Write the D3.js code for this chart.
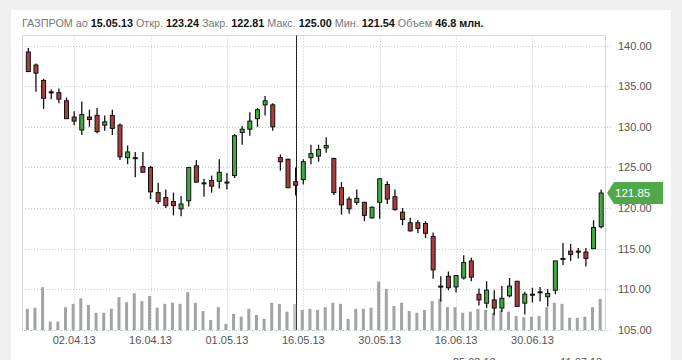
<!DOCTYPE html>
<html><head><meta charset="utf-8">
<script src="https://cdnjs.cloudflare.com/ajax/libs/d3/7.8.5/d3.min.js"></script>
<style>
html,body{margin:0;padding:0;background:#efefef;}
svg{display:block;font-family:"Liberation Sans",Arial,sans-serif;}
</style></head>
<body>
<svg id="c" width="682" height="360"></svg>
<script>
const dates = ["25.03.13","26.03.13","27.03.13","28.03.13","29.03.13",
"01.04.13","02.04.13","03.04.13","04.04.13","05.04.13","08.04.13","09.04.13","10.04.13","11.04.13","12.04.13",
"15.04.13","16.04.13","17.04.13","18.04.13","19.04.13","22.04.13","23.04.13","24.04.13","25.04.13","26.04.13","29.04.13","30.04.13",
"02.05.13","03.05.13","06.05.13","07.05.13","08.05.13","10.05.13","13.05.13","14.05.13","15.05.13","16.05.13","17.05.13",
"20.05.13","21.05.13","22.05.13","23.05.13","24.05.13","27.05.13","28.05.13","29.05.13","30.05.13","31.05.13",
"03.06.13","04.06.13","05.06.13","06.06.13","07.06.13","10.06.13","11.06.13","13.06.13","14.06.13",
"17.06.13","18.06.13","19.06.13","20.06.13","21.06.13","24.06.13","25.06.13","26.06.13","27.06.13","28.06.13",
"01.07.13","02.07.13","03.07.13","04.07.13","05.07.13","08.07.13","09.07.13","10.07.13","11.07.13"];

const open  = [139.2,137.6,135.7,134.3,134.2,133.2,131.2,129.6,131.2,131.4,130.2,131.4,130.2,126.2,126.2,125.1,125.0,121.9,121.3,120.8,
119.9,120.9,125.2,123.1,123.4,123.3,123.2,124.0,129.3,129.7,131.0,132.7,132.7,126.2,126.0,123.24,123.5,126.2,126.4,127.4,
126.1,122.5,121.1,120.7,120.7,118.8,120.7,122.9,121.4,119.5,118.2,118.2,118.1,116.5,110.4,111.6,110.3,111.4,113.5,109.4,
108.3,108.7,107.7,109.2,111.0,108.3,109.3,109.6,109.1,109.9,113.8,114.7,114.7,114.6,115.0,117.7];
const high  = [139.7,137.8,135.9,134.6,134.7,133.6,131.9,133.1,132.1,132.3,131.4,132.1,130.4,127.7,126.9,126.9,125.2,123.1,122.3,121.9,
121.5,125.0,125.9,123.6,124.0,126.0,124.3,129.1,130.1,131.8,132.3,133.8,132.9,126.6,126.1,125.00,126.0,127.8,127.8,128.7,
126.2,123.2,121.4,122.3,120.8,120.2,123.7,123.3,122.3,120.0,118.8,118.5,118.4,117.0,111.6,112.2,111.7,114.2,113.9,110.1,
111.0,109.9,110.4,111.4,111.0,109.7,110.2,110.3,110.0,113.5,115.7,115.6,115.1,115.1,118.5,122.3];
const low   = [136.7,134.3,132.2,133.4,132.9,131.0,130.2,129.0,130.0,129.2,129.5,129.0,125.9,125.4,123.8,124.4,121.1,120.5,120.0,119.1,
119.0,120.2,123.1,121.4,121.9,122.4,122.3,123.7,127.8,128.9,130.0,131.4,129.5,124.6,122.5,121.54,122.9,125.4,125.7,126.8,
121.6,119.2,119.3,120.4,118.4,118.7,118.7,120.5,119.7,117.9,117.1,116.9,116.3,111.3,108.5,109.9,109.6,111.2,111.0,108.0,
107.7,106.8,107.2,109.0,107.9,106.9,108.4,108.5,107.9,109.4,113.0,113.5,113.8,112.8,115.0,117.5];
const close = [136.8,136.6,133.5,134.2,133.4,131.0,130.7,131.5,130.9,129.4,130.6,129.8,126.3,126.9,126.1,124.4,122.0,120.8,120.3,120.3,
120.5,125.0,123.2,123.0,122.7,124.4,123.1,128.9,129.7,130.7,132.1,133.2,130.0,125.7,122.5,122.81,125.7,126.7,127.2,127.7,
121.9,120.4,119.9,121.2,119.1,120.1,123.6,121.1,119.8,118.6,117.2,117.5,116.9,112.4,110.3,110.2,111.7,113.3,111.5,108.7,
109.9,107.7,108.9,110.4,107.9,109.4,109.4,109.7,109.5,113.5,113.8,114.3,114.7,113.8,117.6,121.85];
const volume = [38,40,77,15,15,41,47,57,45,31,31,38,59,50,66,52,61,40,47,49,
47,68,49,34,18,41,11,29,24,38,27,20,49,47,33,46.8,36,38,36,41,
49,47,20,38,38,40,87,74,43,49,34,31,36,52,56,41,41,31,33,38,
36,31,36,33,25,23,24,25,41,49,47,22,22,24,41,56];

const priceTicks = [105,110,115,120,125,130,135,140];
const tickDates  = ["02.04.13","16.04.13","30.04.13","16.05.13","30.05.13","14.06.13","28.06.13"];
const tickLabels = ["02.04.13","16.04.13","01.05.13","16.05.13","30.05.13","16.06.13","30.06.13"];
const navLabels  = ["25.03.13","11.07.13"];
const selIndex = 35;

const svg = d3.select("#c");
const L = 22, R = 605, T = 35.5, B = 330;

// panel
svg.append("rect").attr("x",11).attr("y",10).attr("width",660).attr("height",350).attr("fill","#fff");

const x = d3.scaleBand().domain(dates).range([24.5, R]).padding(0);
const cx = d => x(d) + x.bandwidth()/2;
const y = d3.scaleLinear().domain([105,140]).range([B, 45.5]);
const yv = d3.scaleLinear().domain([0,100]).range([B, B-55.6]);

// grid
const g = svg.append("g");
g.selectAll("line.h").data(priceTicks).join("line")
  .attr("x1",L).attr("x2",R+7).attr("y1",d=>Math.round(y(d))+0.5).attr("y2",d=>Math.round(y(d))+0.5)
  .attr("stroke","#c8c8c8").attr("stroke-dasharray","1,2");
g.selectAll("line.v").data(tickDates).join("line")
  .attr("x1",d=>Math.round(cx(d))+0.5).attr("x2",d=>Math.round(cx(d))+0.5).attr("y1",T).attr("y2",B)
  .attr("stroke","#c8c8c8").attr("stroke-dasharray","1,2");

// frame
svg.append("line").attr("x1",L+0.5).attr("x2",L+0.5).attr("y1",T).attr("y2",B).attr("stroke","#d6d6d6");
svg.append("line").attr("x1",R+0.5).attr("x2",R+0.5).attr("y1",T).attr("y2",B).attr("stroke","#d6d6d6");
svg.append("line").attr("x1",L).attr("x2",R).attr("y1",T).attr("y2",T).attr("stroke","#d6d6d6");
svg.append("line").attr("x1",L).attr("x2",R).attr("y1",B+0.5).attr("y2",B+0.5).attr("stroke","#c6d6c6").attr("stroke-dasharray","1,1");

// crosshair
svg.append("line").attr("x1",Math.round(cx(dates[selIndex]))+0.5).attr("x2",Math.round(cx(dates[selIndex]))+0.5)
  .attr("y1",T).attr("y2",B).attr("stroke","#222").attr("stroke-width",1);

// volume
svg.append("g").selectAll("rect").data(volume).join("rect")
  .attr("x",(d,i)=>cx(dates[i])-2.5).attr("width",3)
  .attr("y",d=>yv(d)).attr("height",d=>B-yv(d))
  .attr("fill",(d,i)=>i===selIndex?"#c4c4c4":"#a3a3a3");

// candles
const cg = svg.append("g");
dates.forEach((d,i)=>{
  const c = cx(d);
  cg.append("line").attr("x1",c).attr("x2",c).attr("y1",y(high[i])).attr("y2",y(low[i]))
    .attr("stroke","#111").attr("stroke-width",1.3);
  const top = y(Math.max(open[i],close[i])), bot = y(Math.min(open[i],close[i]));
  cg.append("rect").attr("x",c-2).attr("width",4).attr("y",top).attr("height",Math.max(1,bot-top))
    .attr("fill", close[i]>=open[i] ? "#41ab41" : "#aa3d3d")
    .attr("stroke","#111").attr("stroke-width",1);
});

// y axis labels
const ya = svg.append("g").attr("transform",`translate(${R+10},0)`)
  .call(d3.axisRight(y).tickValues(priceTicks).tickFormat(d3.format(".2f")).tickSize(0));
ya.select(".domain").remove();
ya.selectAll("text").attr("fill","#555").attr("font-size","11px").attr("font-family","Liberation Sans, Arial, sans-serif");

// x axis labels
const xa = svg.append("g").attr("transform",`translate(0,${B+3})`)
  .call(d3.axisBottom(x).tickValues(tickDates).tickFormat((d,i)=>tickLabels[i]).tickSize(0));
xa.select(".domain").remove();
xa.selectAll("text").attr("fill","#555").attr("font-size","11px").attr("font-family","Liberation Sans, Arial, sans-serif");

// navigator labels (partly below the visible window, as in the reference)
svg.selectAll("text.nav").data(navLabels).join("text")
  .attr("x",(d,i)=>cx(dates[i===0?0:dates.length-1]) + (i===0? 446 : -20))
  .attr("y",366).attr("text-anchor","middle").attr("fill","#555").attr("font-size","11px").text(d=>d);

// last price label
const lp = close[close.length-1];
const ly = y(lp);
svg.append("path")
  .attr("d",`M607,${ly} L614,${ly-11} L663,${ly-11} L663,${ly+11} L614,${ly+11} Z`)
  .attr("fill","#4fa84a");
svg.append("text").attr("x",615).attr("y",ly+4).attr("fill","#fff").attr("font-size","11.5px").text(d3.format(".2f")(lp));

// header
const i0 = selIndex;
const parts = [
  ["ГАЗПРОМ ао ", false], [dates[i0], true],
  [" Откр. ", false], [open[i0].toFixed(2), true],
  [" Закр. ", false], [close[i0].toFixed(2), true],
  [" Макс. ", false], [high[i0].toFixed(2), true],
  [" Мин. ", false], [low[i0].toFixed(2), true],
  [" Объем ", false], [volume[i0] + " млн.", true]
];
const ht = svg.append("text").attr("x",22).attr("y",27).attr("font-size","10.8px").attr("xml:space","preserve");
parts.forEach(p=>{
  ht.append("tspan").text(p[0]).attr("font-weight",p[1]?"bold":"normal").attr("fill",p[1]?"#111":"#777");
});
</script>
</body></html>
